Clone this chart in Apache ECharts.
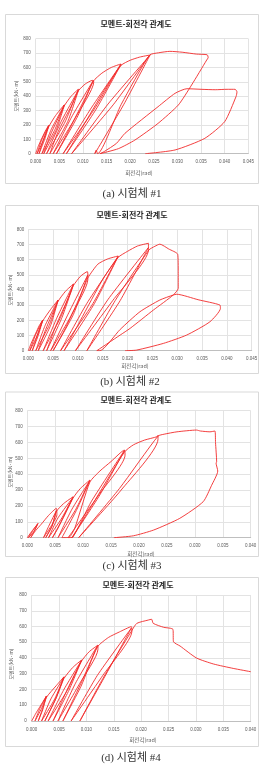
<!DOCTYPE html>
<html><head><meta charset="utf-8">
<script src="https://cdn.jsdelivr.net/npm/echarts@6/dist/echarts.min.js"></script>
<style>html,body{margin:0;padding:0;background:#fff}#c{width:277px;height:766px}</style>
</head><body><div id="c"></div>
<script>
// ---- text ----
const chartTitle = '모멘트-회전각 관계도';
const xAxisName = '회전각(rad)';
const yAxisName = '모멘트(kN·m)';
const captions = ['(a) 시험체 #1', '(b) 시험체 #2', '(c) 시험체 #3', '(d) 시험체 #4'];

// ---- axes (rad, kN·m) ----
const xMaxes = [0.045, 0.045, 0.040, 0.040];
const xStep = 0.005;
const yMax = 800;
const yStep = 100;

// ---- data: [rotation (rad), moment (kN·m)] in loading order ----
const specimen1 = [
  [0,0],[0.0005,48],[0.0012,100],[0.002,155],[0.0027,195],
  [0.0017,100],[0.0003,0],[0.0013,100],[0.0028,197],[0.0019,100],[0.0007,0],
  [0.0016,95],[0.0028,190],[0.0042,265],[0.006,339],
  [0.0041,170],[0.0013,0],[0.0033,170],[0.0061,340],[0.0044,170],[0.0017,0],
  [0.0031,130],[0.006,330],[0.0075,400],[0.009,448],
  [0.0062,220],[0.0023,0],[0.0054,225],[0.0091,447],[0.0068,225],[0.003,0],
  [0.0047,150],[0.0075,330],[0.0091,440],[0.0105,485],[0.012,510],[0.0123,500],
  [0.0084,250],[0.0037,0],[0.0076,255],[0.0122,510],[0.0088,255],[0.0044,0],
  [0.0068,150],[0.0105,390],[0.0122,505],[0.014,560],[0.016,600],[0.018,624],
  [0.0124,310],[0.0058,0],[0.0116,310],[0.0181,624],[0.0128,310],[0.0065,0],
  [0.0098,180],[0.0145,440],[0.0181,615],[0.020,650],[0.022,672],[0.0241,686],
  [0.0164,340],[0.0076,0],[0.0153,345],[0.0242,686],[0.0186,340],[0.0125,0],
  [0.0128,25],[0.0131,0],
  [0.0181,343],[0.0241,686],[0.026,702],[0.0284,712],[0.031,706],[0.034,693],[0.0363,688],[0.0365,668],[0.0362,652],
  [0.033,478],[0.0302,339],[0.0259,211],[0.021,95],[0.0175,35],[0.0136,0],
  [0.0145,15],[0.0171,72],[0.0189,142],[0.0259,327],[0.0295,420],[0.032,452],[0.035,448],[0.038,445],[0.0405,448],[0.0422,448],[0.0426,430],[0.0424,397],
  [0.040,223],[0.0358,107],[0.0295,26],[0.0232,0]
];
const specimen2 = [
  [0,0],[0.0006,50],[0.0015,115],[0.0022,165],[0.0029,202],
  [0.0018,100],[0.0003,0],[0.0014,100],[0.0029,200],[0.002,100],[0.0008,0],
  [0.0019,110],[0.0029,195],[0.0045,272],[0.006,334],
  [0.0042,167],[0.0015,0],[0.0034,167],[0.006,333],[0.0045,167],[0.002,0],
  [0.0035,140],[0.006,325],[0.0075,392],[0.0091,440],
  [0.0065,220],[0.003,0],[0.0058,220],[0.0091,438],[0.0068,220],[0.0037,0],
  [0.0055,160],[0.0085,380],[0.0091,430],[0.0105,490],[0.0119,521],[0.012,500],[0.012,470],
  [0.0087,235],[0.0045,0],[0.008,240],[0.012,500],[0.0091,240],[0.005,0],
  [0.0075,150],[0.011,400],[0.012,480],[0.014,570],[0.016,605],[0.0181,624],
  [0.013,310],[0.0065,0],[0.0118,312],[0.0181,622],[0.0133,310],[0.0072,0],
  [0.0105,200],[0.015,470],[0.0181,615],[0.020,655],[0.022,690],[0.0242,708],[0.0242,664],
  [0.017,330],[0.0095,0],[0.016,335],[0.0242,680],[0.0185,330],[0.0118,0],
  [0.0175,330],[0.0243,664],[0.0255,688],[0.0265,702],[0.0283,670],[0.0301,635],[0.0302,520],[0.0302,411],[0.0292,367],
  [0.0252,268],[0.0205,147],[0.0185,103],[0.0138,0],
  [0.0144,0],[0.0185,140],[0.0225,257],[0.0265,334],[0.0292,367],[0.0299,372],[0.0342,336],[0.0386,301],[0.0387,279],
  [0.0366,191],[0.0319,103],[0.0272,48],[0.0218,4],[0.0195,0]
];
const specimen3 = [
  [0,0],[0.0008,40],[0.0019,88],[0.0012,40],[0.0002,0],[0.001,45],[0.0019,90],[0.0013,45],[0.0006,0],
  [0.0015,45],[0.0025,85],[0.0038,140],[0.0052,185],[0.0053,143],
  [0.0042,70],[0.0029,0],[0.0038,70],[0.0052,170],[0.0044,70],[0.0033,0],
  [0.0045,80],[0.0052,165],[0.0065,215],[0.0082,258],
  [0.0062,125],[0.0038,0],[0.0055,125],[0.0082,255],[0.0064,125],[0.0045,0],
  [0.0055,60],[0.0082,250],[0.0095,310],[0.0112,363],
  [0.0087,180],[0.0055,0],[0.008,180],[0.0112,360],[0.0089,180],[0.0062,0],
  [0.0075,3],[0.0085,60],[0.0112,350],[0.013,420],[0.015,480],[0.0174,552],[0.0175,520],
  [0.0128,270],[0.0073,0],[0.0082,5],[0.0115,230],[0.0174,550],[0.013,270],[0.008,0],
  [0.0115,200],[0.0174,540],[0.019,585],[0.021,615],[0.0232,636],[0.0234,645],[0.0234,620],
  [0.0168,300],[0.0092,0],[0.0165,310],[0.0234,640],[0.0245,652],[0.0268,667],[0.0303,678],[0.031,672],[0.0327,667],[0.0336,672],
  [0.0337,600],[0.0339,478],[0.0338,470],[0.0341,420],
  [0.033,330],[0.0315,227],[0.0273,122],[0.0226,48],[0.019,12],[0.0155,0]
];
const specimen4 = [
  [0,0],[0.0007,45],[0.0014,85],[0.0021,125],[0.0027,159],
  [0.0018,80],[0.0006,0],[0.0015,80],[0.0027,158],[0.002,80],[0.0012,0],
  [0.002,70],[0.0027,150],[0.0045,225],[0.0059,281],
  [0.0042,140],[0.0018,0],[0.0035,140],[0.0059,279],[0.0044,140],[0.0024,0],
  [0.0045,150],[0.0059,270],[0.0075,340],[0.0091,387],
  [0.0065,195],[0.003,0],[0.0058,195],[0.0091,385],[0.0068,195],[0.0039,0],
  [0.0065,200],[0.0091,380],[0.0105,440],[0.0121,482],[0.0121,455],
  [0.0088,240],[0.0048,0],[0.008,240],[0.012,478],[0.009,240],[0.0057,0],
  [0.009,220],[0.012,470],[0.014,530],[0.016,565],[0.0182,599],[0.0183,570],
  [0.013,290],[0.0072,0],[0.012,290],[0.0182,590],[0.0134,285],[0.0088,0],
  [0.013,270],[0.0183,575],[0.0192,620],[0.0213,641],[0.0219,646],[0.0222,620],[0.0241,595],[0.0253,589],[0.0258,582],
  [0.0259,503],[0.0271,476],[0.0301,400],[0.0332,362],[0.0368,334],[0.040,313]
];
const specimens = [specimen1, specimen2, specimen3, specimen4];

// ---- layout (pixels) ----
const layouts = [
  {box:[5,14,253,169], grid:[35.7,38.7,212.6,115], titleX:136, titleY:24, xNameX:139, xNameY:173, yNameX:16, yNameY:96, capX:132, capY:194, yLabMargin:5},
  {box:[5,205,253,168], grid:[28.3,229.3,223.4,121.4], titleX:132, titleY:215, xNameX:135, xNameY:366, yNameX:10, yNameY:290, capX:130, capY:382, yLabMargin:4},
  {box:[5,391.5,253,164.5], grid:[27.3,410.7,223.4,127], titleX:136, titleY:399.5, xNameX:141, xNameY:554, yNameX:10, yNameY:472, capX:132, capY:566, yLabMargin:4.5},
  {box:[5,577,253,169], grid:[31.7,595,219,126], titleX:138, titleY:585, xNameX:143, xNameY:740, yNameX:11, yNameY:664, capX:131, capY:758, yLabMargin:5}
];

const grids = [], xAxes = [], yAxes = [], series = [], graphics = [];
layouts.forEach((L, i) => {
  grids.push({left:L.grid[0], top:L.grid[1], width:L.grid[2], height:L.grid[3], containLabel:false});
  xAxes.push({
    type:'value', gridIndex:i, min:0, max:xMaxes[i], interval:xStep,
    axisLine:{show:true, lineStyle:{color:'#bfbfbf', width:1}},
    axisTick:{show:false},
    splitLine:{show:true, lineStyle:{color:'#e3e3e3', width:1}},
    axisLabel:{fontSize:4.5, color:'#595959', margin:6, fontFamily:'Liberation Sans', formatter:v => v.toFixed(3)}
  });
  yAxes.push({
    type:'value', gridIndex:i, min:0, max:yMax, interval:yStep,
    axisLine:{show:false}, axisTick:{show:false},
    splitLine:{show:true, lineStyle:{color:'#e3e3e3', width:1}},
    axisLabel:{fontSize:4.5, color:'#595959', margin:L.yLabMargin, fontFamily:'Liberation Sans'}
  });
  series.push({
    type:'line', xAxisIndex:i, yAxisIndex:i, data:specimens[i],
    showSymbol:false, symbol:'none', smooth:0.2,
    lineStyle:{color:'#f22a2a', width:0.9}, animation:false
  });
  graphics.push({type:'rect', shape:{x:L.box[0]+0.5, y:L.box[1]+0.5, width:L.box[2], height:L.box[3]}, style:{fill:null, stroke:'#d9d9d9', lineWidth:1}, z:-1});
  graphics.push({type:'text', x:L.titleX, y:L.titleY, style:{text:chartTitle, fontSize:8, fontWeight:'bold', fontFamily:'Noto Sans CJK KR', fill:'#262626', align:'center', verticalAlign:'middle'}});
  graphics.push({type:'text', x:L.xNameX, y:L.xNameY, style:{text:xAxisName, fontSize:5.5, fontFamily:'Noto Sans CJK KR', fill:'#595959', align:'center', verticalAlign:'middle'}});
  graphics.push({type:'text', x:L.yNameX, y:L.yNameY, rotation:Math.PI/2, style:{text:yAxisName, fontSize:5, fontFamily:'Noto Sans CJK KR', fill:'#595959', align:'center', verticalAlign:'middle'}});
  graphics.push({type:'text', x:L.capX, y:L.capY, style:{text:captions[i], fontSize:11, fontFamily:'Liberation Serif, Noto Sans CJK KR', fill:'#333333', align:'center', verticalAlign:'middle'}});
});

const chart = echarts.init(document.getElementById('c'), null, {renderer:'canvas'});
chart.setOption({
  backgroundColor:'#ffffff',
  animation:false,
  grid:grids, xAxis:xAxes, yAxis:yAxes, series:series,
  graphic:{elements:graphics}
});
</script>
</body></html>
